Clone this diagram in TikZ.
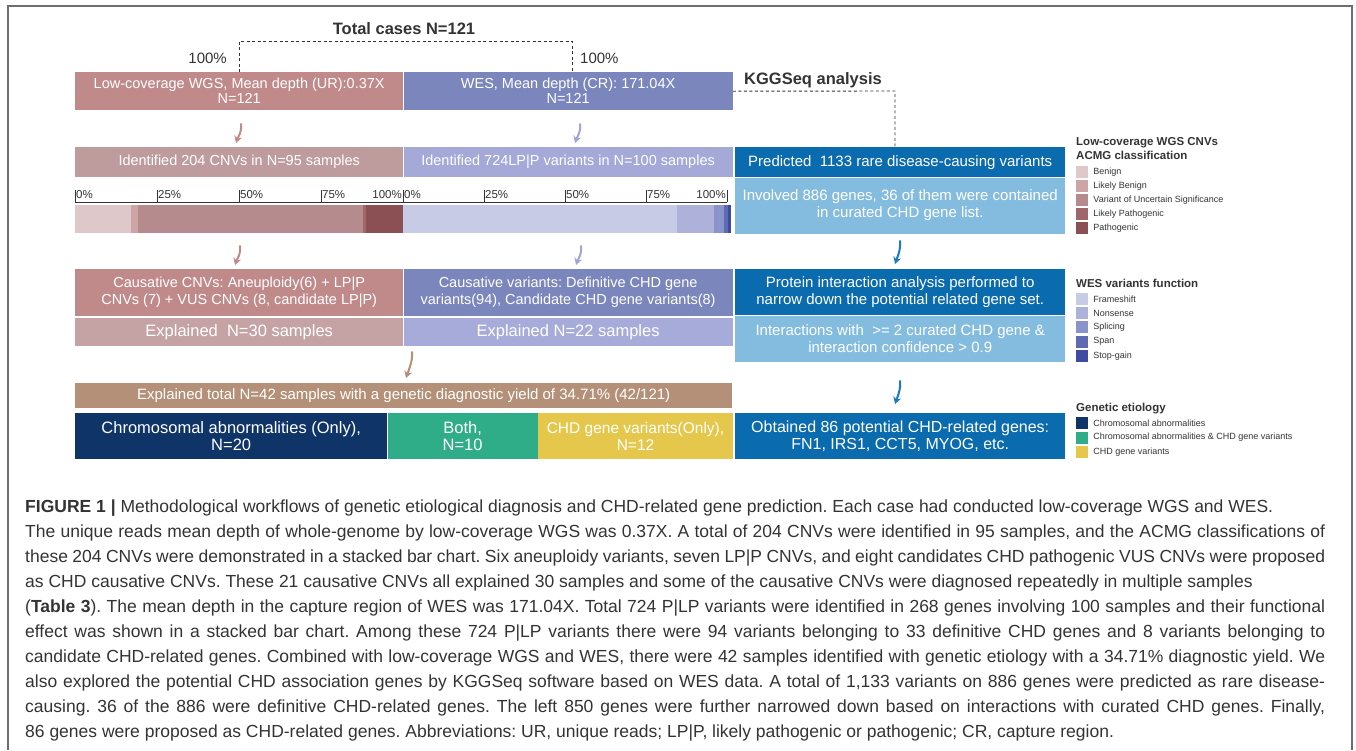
\documentclass[tikz,border=0pt]{standalone}
\usepackage{fontspec}
\setmainfont{Liberation Sans}
\usepackage{xcolor}
\usetikzlibrary{positioning,arrows.meta}
\frenchspacing

\definecolor{framec}{HTML}{6E6E6E}
\definecolor{txtc}{HTML}{333333}
\definecolor{wgsc}{HTML}{C08A8B}
\definecolor{wesc}{HTML}{7B86BD}
\definecolor{idcnvc}{HTML}{BE9C9D}
\definecolor{idvarc}{HTML}{A4A9D8}
\definecolor{dkblue}{HTML}{0B6BAF}
\definecolor{ltblue}{HTML}{84BCDF}
\definecolor{exwgsc}{HTML}{C5A3A4}
\definecolor{exwesc}{HTML}{A6ABD9}
\definecolor{totalc}{HTML}{B39077}
\definecolor{chromc}{HTML}{0E3468}
\definecolor{bothc}{HTML}{2FAD88}
\definecolor{chdc}{HTML}{E5C84B}
\definecolor{arrwes}{HTML}{9FA5D8}
\definecolor{arrblue}{HTML}{1A7BC4}
% stacked bars and legends
\definecolor{benc}{HTML}{DFC8C9}
\definecolor{lbenc}{HTML}{CDA5A7}
\definecolor{vusc}{HTML}{B68B8E}
\definecolor{lpatc}{HTML}{A0676A}
\definecolor{patc}{HTML}{8B5053}
\definecolor{fsc}{HTML}{C8CBE6}
\definecolor{nsc}{HTML}{AEB2DA}
\definecolor{splc}{HTML}{8A93CA}
\definecolor{spanc}{HTML}{5F6BB1}
\definecolor{stopc}{HTML}{3F4BA0}

\newcommand\capline[1]{\makebox[1300pt][s]{#1}}

\begin{document}
\begin{tikzpicture}[
  x=1pt, y=-1pt,
  blk/.style={fill=#1, text=white, inner sep=0pt, anchor=north west, align=center,
              font=\fontsize{14.5}{17}\selectfont},
  bigblk/.style={blk=#1, font=\fontsize{16.5}{17}\selectfont},
  rblk/.style={blk=#1, minimum width=330, font=\fontsize{15}{17}\selectfont},
  dashln/.style={draw=txtc, line width=0.9, dash pattern=on 3pt off 2.5pt},
  axisln/.style={draw=txtc, line width=0.8},
  ticklbl/.style={font=\fontsize{11.5}{12}\selectfont, text=txtc, inner sep=1pt},
  toplbl/.style={font=\fontsize{15}{17}\selectfont, text=txtc, inner sep=0pt},
  headlbl/.style={font=\bfseries\fontsize{16.5}{19}\selectfont, text=txtc, inner sep=0pt},
  legtitle/.style={font=\bfseries\fontsize{11.5}{14}\selectfont, text=txtc, anchor=west,
                   align=left, inner sep=0pt},
  legsq/.style={fill=#1, minimum size=12, inner sep=0pt},
  legtxt/.style={font=\fontsize{9}{10}\selectfont, text=txtc, inner sep=0pt},
  bendarr/.style={draw=#1, line width=2, line cap=round, -{Stealth[length=7pt, width=8pt]}}
]
  \useasboundingbox (0,0) rectangle (1356,750);
  % frame
  \draw[framec, line width=1.3] (8,750) -- (8,6) -- (1352,6) -- (1352,750);

  % Top row
  \node[headlbl] (cases) at (404,29) {Total cases N=121};
  \node[blk=wgsc, minimum width=328, minimum height=38, font=\fontsize{14.5}{15}\selectfont]
       (wgs) at (75,72) {Low-coverage WGS, Mean depth (UR):0.37X\\N=121};
  \node[blk=wesc, minimum width=329, minimum height=38, font=\fontsize{14.5}{15}\selectfont,
       right=0pt of wgs] (wes) {WES, Mean depth (CR): 171.04X\\N=121};
  \node[toplbl, anchor=east] (pctl) at (227,58) {100\%};
  \node[toplbl, anchor=west] (pctr) at (580,58) {100\%};
  \node[headlbl] (kgg) at (813,80) {KGGSeq analysis};

  % Identified rows
  \node[blk=idcnvc, minimum width=328, minimum height=30] (idcnv) at (75,147)
       {Identified 204 CNVs in N=95 samples};
  \node[blk=idvarc, minimum width=329, minimum height=30, right=0pt of idcnv] (idvar)
       {Identified 724LP|P variants in N=100 samples};
  \node[rblk=dkblue, minimum height=30] (pred) at (735,147)
       {Predicted\ \ 1133 rare disease-causing variants};
  \node[rblk=ltblue, minimum height=56, below=0pt of pred] (invol)
       {Involved 886 genes, 36 of them were contained\\in curated CHD gene list.};

  % Stacked bars
  \foreach \a/\b/\c in {75/131/benc, 131/138/lbenc, 138/363/vusc, 363/366/lpatc, 366/403/patc,
                        403/677/fsc, 677/714/nsc, 714/724/splc, 724/728/spanc, 728/731/stopc}
    \fill[\c] (\a,205) rectangle (\b,233);
  \draw[axisln] (75,202) -- (727,202);
  \foreach \t/\l [count=\i] in {75/0, 157/25, 239/50, 321/75, 403/0, 484/25, 565/50, 646/75} {
    \draw[axisln] (\t,190) -- (\t,202);
    \node[ticklbl, anchor=west] (tk\i) at (\t,195) {\l\%};
  }
  \draw[axisln] (727,190) -- (727,202);
  \node[ticklbl, anchor=east] (tkl) at (403,195) {100\%};
  \node[ticklbl, anchor=east] (tkr) at (727,195) {100\%};

  % Causative rows
  \node[blk=wgsc, minimum width=328, minimum height=47] (caucnv) at (75,269)
       {Causative CNVs: Aneuploidy(6) + LP|P\\CNVs (7) + VUS CNVs (8, candidate LP|P)};
  \node[blk=wesc, minimum width=329, minimum height=47, right=0pt of caucnv] (cauvar)
       {Causative variants: Definitive CHD gene\\variants(94), Candidate CHD gene variants(8)};
  \node[bigblk=exwgsc, minimum width=328, minimum height=28] (ex30) at (75,318)
       {Explained\ \ N=30 samples};
  \node[bigblk=exwesc, minimum width=329, minimum height=28, right=0pt of ex30] (ex22)
       {Explained N=22 samples};
  \node[rblk=dkblue, minimum height=46] (prot) at (735,269)
       {Protein interaction analysis performed to\\narrow down the potential related gene set.};
  \node[rblk=ltblue, minimum height=46, below=0pt of prot] (inter)
       {Interactions with\ \ >= 2 curated CHD gene \&\\interaction confidence > 0.9};

  % Totals
  \node[blk=totalc, minimum width=657, minimum height=25, font=\fontsize{15}{16}\selectfont]
       (total) at (75,383)
       {Explained total N=42 samples with a genetic diagnostic yield of 34.71\% (42/121)};
  \node[bigblk=chromc, minimum width=312, minimum height=46] (chrom) at (75,413)
       {Chromosomal abnormalities (Only),\\N=20};
  \node[bigblk=bothc, minimum width=150, minimum height=46, right=0pt of chrom] (both)
       {Both,\\N=10};
  \node[bigblk=chdc, minimum width=195, minimum height=46, right=0pt of both,
       font=\fontsize{15.5}{17}\selectfont] (chdg)
       {CHD gene variants(Only),\\N=12};
  \node[rblk=dkblue, minimum height=46, font=\fontsize{16}{17}\selectfont] (obt) at (735,413)
       {Obtained 86 potential CHD-related genes:\\FN1, IRS1, CCT5, MYOG, etc.};

  % Dashed links
  \coordinate (brl) at (239,41);
  \coordinate (brr) at (572,41);
  \draw[dashln] (brl |- wgs.north) -- (brl) -- (brr) -- (brr |- wes.north);
  \coordinate (kgc) at (895,91);
  \draw[dashln] (wes.east) -- (kgc) -- (kgc |- pred.north);

  % Curved arrows
  \coordinate (a1s) at (241,124); \coordinate (a1e) at (236,143);
  \coordinate (a2s) at (580,124); \coordinate (a2e) at (575,143);
  \coordinate (a3s) at (240,246); \coordinate (a3e) at (235,265);
  \coordinate (a4s) at (581,246); \coordinate (a4e) at (576,265);
  \coordinate (a5s) at (412,352); \coordinate (a5e) at (406,378);
  \coordinate (a6s) at (900,241); \coordinate (a6e) at (895,264);
  \coordinate (a7s) at (900,381); \coordinate (a7e) at (895,404);
  \foreach \n/\c in {1/wgsc, 2/arrwes, 3/wgsc, 4/arrwes, 5/totalc, 6/arrblue, 7/arrblue}
    \draw[bendarr=\c] (a\n s) .. controls +(1,9) and +(2,-6) .. (a\n e);

  % Legends
  \node[legtitle] (leg1) at (1076,149) {Low-coverage WGS CNVs\\ACMG classification};
  \foreach \c/\t [count=\i] in {benc/Benign, lbenc/Likely Benign,
      vusc/Variant of Uncertain Significance, lpatc/Likely Pathogenic, patc/Pathogenic} {
    \node[legsq=\c] (sqa\i) at (1082,{158+14*\i}) {};
    \node[legtxt, right=5pt of sqa\i] (lta\i) {\t};
  }
  \node[legtitle] (leg2) at (1076,283) {WES variants function};
  \foreach \c/\t [count=\i] in {fsc/Frameshift, nsc/Nonsense, splc/Splicing, spanc/Span,
      stopc/Stop-gain} {
    \node[legsq=\c] (sqb\i) at (1082,{284.5+14.3*\i}) {};
    \node[legtxt, right=5pt of sqb\i] (ltb\i) {\t};
  }
  \node[legtitle] (leg3) at (1076,409) {Genetic etiology};
  \foreach \c/\t [count=\i] in {chromc/Chromosomal abnormalities,
      bothc/Chromosomal abnormalities \& CHD gene variants, chdc/CHD gene variants} {
    \node[legsq=\c] (sqc\i) at (1082,{408.5+14.5*\i}) {};
    \node[legtxt, right=5pt of sqc\i] (ltc\i) {\t};
  }

  % Caption
  \node[anchor=north west, align=left, inner sep=0pt, text=txtc,
        font=\fontsize{17.5}{25}\selectfont] (cap) at (25,500) {%
    {\bfseries FIGURE 1 |} Methodological workflows of genetic etiological diagnosis and CHD-related gene prediction. Each case had conducted low-coverage WGS and WES.\\
    \capline{The unique reads mean depth of whole-genome by low-coverage WGS was 0.37X. A total of 204 CNVs were identified in 95 samples, and the ACMG classifications of}\\
    \capline{these 204 CNVs were demonstrated in a stacked bar chart. Six aneuploidy variants, seven LP|P CNVs, and eight candidates CHD pathogenic VUS CNVs were proposed}\\
    as CHD causative CNVs. These 21 causative CNVs all explained 30 samples and some of the causative CNVs were diagnosed repeatedly in multiple samples\\
    \capline{(\textbf{Table 3}). The mean depth in the capture region of WES was 171.04X. Total 724 P|LP variants were identified in 268 genes involving 100 samples and their functional}\\
    \capline{effect was shown in a stacked bar chart. Among these 724 P|LP variants there were 94 variants belonging to 33 definitive CHD genes and 8 variants belonging to}\\
    \capline{candidate CHD-related genes. Combined with low-coverage WGS and WES, there were 42 samples identified with genetic etiology with a 34.71\% diagnostic yield. We}\\
    \capline{also explored the potential CHD association genes by KGGSeq software based on WES data. A total of 1,133 variants on 886 genes were predicted as rare disease-}\\
    \capline{causing. 36 of the 886 were definitive CHD-related genes. The left 850 genes were further narrowed down based on interactions with curated CHD genes. Finally,}\\
    86 genes were proposed as CHD-related genes. Abbreviations: UR, unique reads; LP|P, likely pathogenic or pathogenic; CR, capture region.};
\end{tikzpicture}
\end{document}
